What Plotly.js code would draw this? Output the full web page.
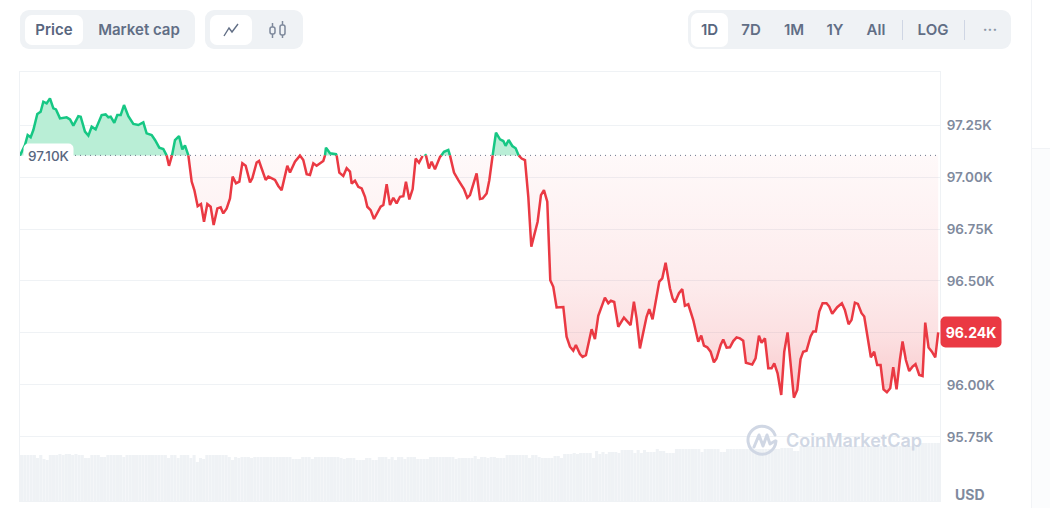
<!DOCTYPE html>
<html>
<head>
<meta charset="utf-8">
<script src="https://cdn.plot.ly/plotly-3.0.1.min.js"></script>
<style>
  html, body { margin: 0; padding: 0; background: #fff; font-family: Inter, sans-serif; overflow: hidden; }
  #plot1 { position: absolute; left: 0; top: 0; width: 1050px; height: 508px; }
  .annotation rect.bg { rx: 5px; }
  .group { position: absolute; top: 10px; height: 39px; background: #eff2f5; border-radius: 9px; }
  .btn { position: absolute; top: 5px; height: 30px; line-height: 30px; text-align: center; font-size: 15px; font-weight: 600; color: #616e85; border-radius: 7px; }
  .on { background: #fff; color: #58667e; }
  .sep { position: absolute; top: 10px; width: 1px; height: 20px; background: #cfd6e4; }
  .side { position: absolute; left: 1031px; top: 0; width: 19px; height: 508px; border-left: 1px solid #f1f3f6; }
  .side div { position: absolute; left: 0; top: 148px; right: 0; bottom: 0; background: #fbfcfd; border-top: 1px solid #f1f3f6; }
  svg.abs { position: absolute; }
</style>
</head>
<body>
<div id="plot1"></div>

<div class="side"><div></div></div>

<div class="group" style="left:20px;width:175px">
  <div class="btn on" style="left:5px;width:58px">Price</div>
  <div class="btn" style="left:70px;width:98px">Market cap</div>
</div>
<div class="group" style="left:205px;width:98px">
  <div class="btn on" style="left:5px;width:42px"></div>
  <svg class="abs" style="left:17px;top:12px" width="18" height="16" viewBox="0 0 18 16"><polyline points="2,14 7,6 10,10 16,2" fill="none" stroke="#616e85" stroke-width="1.4"/></svg>
  <svg class="abs" style="left:63px;top:10px" width="20" height="20" viewBox="0 0 20 20" fill="none" stroke="#7d889b" stroke-width="1.5"><rect x="2" y="7" width="5" height="7" rx="2"/><line x1="4.5" y1="3" x2="4.5" y2="7"/><line x1="4.5" y1="14" x2="4.5" y2="18"/><rect x="12" y="5" width="5" height="10" rx="2"/><line x1="14.5" y1="1" x2="14.5" y2="5"/><line x1="14.5" y1="15" x2="14.5" y2="18"/></svg>
</div>
<div class="group" style="left:688px;width:323px">
  <div class="btn on" style="left:3px;top:3px;height:34px;line-height:34px;width:37px">1D</div>
  <div class="btn" style="left:43px;width:40px">7D</div>
  <div class="btn" style="left:86px;width:40px">1M</div>
  <div class="btn" style="left:127px;width:40px">1Y</div>
  <div class="btn" style="left:168px;width:40px">All</div>
  <div class="sep" style="left:214px"></div>
  <div class="btn" style="left:225px;width:40px">LOG</div>
  <div class="sep" style="left:276px"></div>
  <div class="btn" style="left:282px;width:40px;top:5px;color:#8c97a8">···</div>
</div>

<svg class="abs" style="left:745px;top:424px" width="34" height="32" viewBox="0 0 34 32" fill="none" stroke="#d0d7e4" stroke-width="3" stroke-linecap="round" stroke-linejoin="round">
  <path d="M31 17 A14 14 0 1 1 30 11"/>
  <path d="M9 23 L14 11 L18 22 L22 11 L25 20 L30 17"/>
</svg>

<script>
var basePrice = 97104;
var lastPrice = 96253;

// minutes since the start of the day window
var priceTimes = [0, 7.8, 12, 16.7, 20.9, 27.1, 32.3, 36.5, 41.7, 46.9, 52.2, 56.3, 62.6, 73, 78.3, 83.5, 91.3, 95, 101.7, 107, 112.2, 118.4, 127.8, 134, 138.3, 141.9, 147.6, 152.3, 157.6, 162.8, 169.6, 177.4, 185.2, 193, 198.2, 206.1, 211.3, 218, 224.3, 229.5, 233.2, 237.9, 242.6, 248.9, 254.1, 258.2, 263.5, 268.7, 272.9, 278.1, 283.3, 288, 293.2, 298.4, 303.1, 308.9, 314.1, 318.2, 323.5, 328.7, 332.8, 338.1, 343.3, 348, 353.2, 360, 363.6, 370.4, 374.1, 384.5, 388.7, 399.1, 404.3, 409.5, 418.4, 422.6, 430.4, 438.2, 443.4, 448.7, 453.9, 459.1, 464.3, 474.7, 477.4, 478.9, 485.2, 494.6, 495.6, 499.8, 506, 511.3, 516.5,
  519.1, 524.3, 529.5, 534.8, 540, 543.6, 548.8, 554.1, 559.3, 564.5, 568.7, 573.9, 579.1, 584.3, 589.5, 594.8, 600, 604.1, 609.4, 614.6, 619.3, 624.5, 630.2, 633.9, 635.4, 640.1, 644.3, 649.5, 657.4, 659.5, 663.6, 670.4, 673, 679.3, 686.1, 694.9, 700.1, 704.3, 714.7, 720, 724.1, 730.4, 734.6, 739.8, 745, 751.3, 756.5, 760.1, 764.8, 770.6, 775.8, 780.5, 785.2, 790.4, 795.6, 800.3, 810.2, 815.4, 820.1, 825.3, 830, 834.7, 839.9, 850.4,
  855.5, 860.8, 866, 870.1, 876.4, 880.6, 885.8, 894.7, 899.9, 905.1, 915.5, 920.8, 924.9, 930.1, 936.4, 945.3, 955.7, 960.9, 965.1, 970.3, 980.7, 984.9, 990.1, 1000.6, 1005.3, 1010.5, 1017.3, 1021.4, 1025.1, 1031.4, 1036.6, 1040.7, 1046, 1053.8, 1061.6, 1066.3, 1070.5, 1075.7, 1080.9, 1086.1, 1090.3, 1096.6, 1100.7, 1106, 1111.2, 1116.4, 1121.6, 1126.8, 1132, 1136.2, 1146.1, 1151.3, 1156.6, 1160.7, 1166, 1171.2, 1176.4, 1180.6, 1185.8, 1191.5, 1196.2, 1201.4, 1211.3, 1216.6,
  1221.7, 1225.9, 1231.1, 1237.4, 1241.6, 1245.7, 1251, 1256.2, 1262.4, 1266.6, 1271.3, 1279.1, 1286.4, 1291.1, 1296.9, 1301.6, 1306.8, 1311.5, 1317.2, 1321.4, 1327.6, 1331.8, 1337, 1341.7, 1347, 1351.6, 1356.9, 1362.1, 1366.8, 1372, 1377.2, 1381.4, 1386.6, 1391.8, 1397, 1401.7, 1407.5, 1412.7, 1416.9, 1422.1, 1427.3, 1432.6, 1437.2];

var prices = [97104, 97154, 97202, 97191, 97226, 97303, 97314, 97362, 97354, 97378, 97330, 97325, 97282, 97287, 97277, 97247, 97293, 97290, 97218, 97199, 97242, 97229, 97298, 97301, 97287, 97290, 97261, 97298, 97298, 97346, 97293, 97255, 97250, 97263, 97210, 97202, 97178, 97141, 97135, 97104, 97054, 97104, 97178, 97197, 97133, 97152, 97104, 96978, 96937, 96860, 96870, 96785, 96870, 96857, 96769, 96849, 96854, 96825, 96849, 96897, 97002, 96970, 96978, 97066, 97054, 96974, 96994, 97070, 97077, 96986, 97002, 96986, 96957, 96937, 97054, 97022, 97074, 97103, 97082, 97014, 97010, 97066, 97054, 97077, 97104, 97141, 97114, 97110, 97104, 97021, 97005, 97042, 97026,
  96969, 96982, 96953, 96945, 96905, 96857, 96841, 96798, 96825, 96857, 96865, 96966, 96865, 96900, 96873, 96905, 96908, 96977, 96892, 96942, 97089, 97069, 97101, 97110, 97104, 97041, 97073, 97037, 97097, 97104, 97121, 97130, 97104, 97021, 96985, 96942, 96900, 96913, 97017, 96894, 96897, 96921, 96985, 97104, 97213, 97181, 97173, 97150, 97178, 97149, 97138, 97104, 97089, 97081, 96905, 96665, 96785, 96913, 96937, 96881, 96504, 96472, 96373, 96375,
  96232, 96184, 96165, 96192, 96149, 96135, 96143, 96268, 96221, 96332, 96420, 96393, 96405, 96399, 96280, 96324, 96288, 96401, 96320, 96176, 96328, 96365, 96316, 96497, 96513, 96588, 96465, 96417, 96397, 96441, 96461, 96381, 96388, 96312, 96208, 96237, 96189, 96181, 96160, 96109, 96128, 96192, 96219, 96179, 96181, 96211, 96229, 96224, 96213, 96107, 96098, 96128, 96237, 96203, 96224, 96080, 96080, 96104, 96056, 95952, 96160, 96253, 95939, 95976,
  96124, 96160, 96165, 96233, 96257, 96257, 96353, 96393, 96393, 96377, 96342, 96374, 96393, 96361, 96292, 96313, 96396, 96390, 96345, 96329, 96209, 96133, 96160, 96096, 96096, 95979, 95965, 95984, 96085, 95979, 96120, 96209, 96120, 96067, 96088, 96100, 96048, 96043, 96300, 96180, 96160, 96133, 96253];

// one bar per 5 minutes, relative height
var volumes = [46, 46, 46, 46, 46, 43, 46, 42, 41, 46, 46, 46, 47, 46, 47, 47, 46, 47, 46, 46, 43, 43, 46, 46, 46, 44, 44, 46, 46, 46, 46, 46, 44, 46, 46, 46, 46, 46, 46, 46, 46, 46, 46, 46, 46, 46, 43, 46, 46, 43, 46, 46, 46, 43, 46, 39, 43, 42, 46, 46, 46, 46, 46, 46, 46, 44, 41, 44, 43, 44, 44, 44, 43, 44, 44, 44, 44, 44, 44, 44, 44, 44, 44, 44, 44, 42, 42, 42,
  44, 44, 44, 42, 44, 44, 44, 44, 44, 44, 44, 44, 43, 42, 43, 43, 43, 41, 41, 41, 43, 43, 41, 41, 44, 44, 44, 42, 44, 41, 44, 44, 42, 44, 44, 44, 42, 42, 42, 42, 44, 44, 44, 44, 44, 44, 44, 44, 42, 43, 43, 43, 43, 43, 45, 42, 44, 44, 43, 44, 44, 43, 43, 43, 46, 46, 46, 46, 46,
  46, 46, 43, 46, 46, 44, 43, 43, 43, 43, 45, 45, 43, 47, 47, 47, 48, 47, 48, 48, 48, 48, 43, 50, 47, 49, 47, 49, 49, 49, 48, 51, 51, 51, 51, 48, 51, 48, 51, 49, 49, 49, 52, 50, 50, 48, 48, 48, 52, 52, 52, 52, 52, 52, 52, 52, 49, 52, 52, 52, 52, 52, 49, 49, 52, 52, 52, 52, 52,
  52, 52, 52, 52, 52, 52, 52, 52, 52, 52, 52, 52, 53, 53, 53, 53, 50, 50, 55, 55, 55, 55, 55, 55, 55, 55, 55, 55, 55, 55, 55, 55, 55, 55, 55, 55, 55, 55, 55, 55, 55, 55, 55, 55, 55, 55, 55, 55, 55, 55, 55, 55, 55, 55, 55, 55, 58, 58, 58, 58, 58, 58];

// 96.25K stays a gridline only, the last-price badge sits on top of it
var tickValues = [95750, 96000, 96250, 96500, 96750, 97000, 97250];
var tickLabels = ['95.75K', '96.00K', '', '96.50K', '96.75K', '97.00K', '97.25K'];

var volumeTimes = volumes.map(function (v, i) { return i * 5 + 2.5; });
var baseLine = priceTimes.map(function () { return basePrice; });

var volume = {
  x: volumeTimes, y: volumes, yaxis: 'y2', type: 'bar',
  marker: { color: '#eff2f5', line: { width: 0 } }
};
var baseA = { x: priceTimes, y: baseLine, mode: 'lines', line: { width: 0 } };
var greenFill = {
  x: priceTimes, y: prices.map(function (p) { return Math.max(p, basePrice); }),
  mode: 'lines', line: { width: 0 }, fill: 'tonexty', fillcolor: '#b9eed6'
};
var baseB = { x: priceTimes, y: baseLine, mode: 'lines', line: { width: 0 } };
var redFill = {
  x: priceTimes, y: prices.map(function (p) { return Math.min(p, basePrice); }),
  mode: 'lines', line: { width: 0 }, fill: 'tonexty',
  fillgradient: {
    type: 'vertical', start: 95939, stop: basePrice,
    colorscale: [[0, 'rgba(234,57,67,0.28)'], [0.25, 'rgba(234,57,67,0.16)'], [0.47, 'rgba(234,57,67,0.10)'], [0.69, 'rgba(234,57,67,0.07)'], [1, 'rgba(234,57,67,0.03)']]
  }
};
var dotted = {
  x: priceTimes, y: baseLine, mode: 'lines',
  line: { color: '#6b768a', width: 1, dash: '1px,4px' }
};
var greenLine = {
  x: priceTimes, y: prices.map(function (p) { return p >= basePrice ? p : null; }),
  mode: 'lines', line: { color: '#16c784', width: 2.5 }
};
var redLine = {
  x: priceTimes, y: prices.map(function (p) { return p <= basePrice ? p : null; }),
  mode: 'lines', line: { color: '#ea3943', width: 2.5 }
};

var data = [volume, baseA, greenFill, baseB, redFill, dotted, greenLine, redLine];

var tickFont = { family: 'Inter, sans-serif', size: 13.5, color: '#808a9d', weight: 600 };

var layout = {
  width: 1050, height: 508,
  margin: { l: 20, r: 110, t: 72, b: 7, pad: 0 },
  paper_bgcolor: 'rgba(0,0,0,0)', plot_bgcolor: '#fff',
  showlegend: false, hovermode: false, bargap: 0.04,
  xaxis: {
    range: [0, 1440], showgrid: false, zeroline: false, showticklabels: false, ticks: '',
    showline: true, mirror: true, linecolor: '#eff2f5', linewidth: 1
  },
  yaxis: {
    range: [95442, 97505], side: 'right', tickmode: 'array', tickvals: tickValues, ticktext: tickLabels,
    tickfont: tickFont, ticks: '', ticklabelstandoff: 3, gridcolor: '#eff2f5', gridwidth: 1, zeroline: false,
    showline: true, mirror: true, linecolor: '#eff2f5', linewidth: 1
  },
  yaxis2: {
    domain: [0, 0.14], range: [0, 60], anchor: 'x', visible: false
  },
  annotations: [
    {
      xref: 'paper', yref: 'y', x: 0, y: basePrice, xanchor: 'left', yanchor: 'middle', xshift: 3, yshift: -1,
      text: '97.10K', showarrow: false, bgcolor: '#fff', width: 47, height: 22,
      font: { family: 'Inter, sans-serif', size: 13.5, color: '#58667e', weight: 500 }
    },
    {
      xref: 'paper', yref: 'y', x: 1, y: lastPrice, xanchor: 'left', yanchor: 'middle',
      text: '96.24K', showarrow: false, bgcolor: '#ea3943', width: 58, height: 28,
      font: { family: 'Inter, sans-serif', size: 14, color: '#fff', weight: 700 }
    },
    {
      xref: 'paper', yref: 'paper', x: 1, y: 0, xanchor: 'left', yanchor: 'middle', xshift: 13, yshift: 7,
      text: 'USD', showarrow: false,
      font: { family: 'Inter, sans-serif', size: 14, color: '#808a9d', weight: 700 }
    },
    {
      xref: 'paper', yref: 'paper', x: 0.8304, y: 0.14, xanchor: 'left', yanchor: 'middle',
      text: 'CoinMarketCap', showarrow: false,
      font: { family: 'Inter, sans-serif', size: 18, color: '#d0d7e4', weight: 600 }
    }
  ]
};

Plotly.newPlot('plot1', data, layout, { displayModeBar: false, staticPlot: true });
</script>
</body>
</html>
